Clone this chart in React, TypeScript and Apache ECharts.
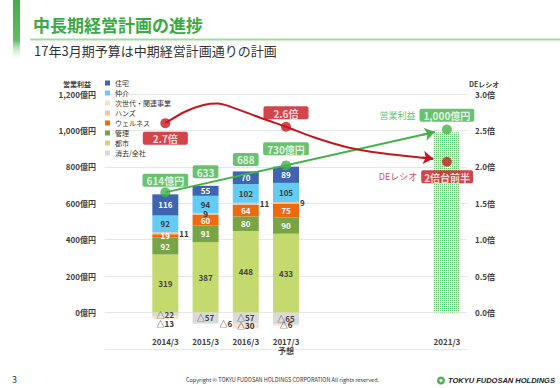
import React, { useEffect, useRef } from "react";
import * as echarts from "echarts";

const FONT = "'Noto Sans CJK JP', 'Noto Sans', sans-serif";

// ---------- data ----------
const categories = ["2013/3", "2014/3", "2015/3", "2016/3", "2017/3", "2018/3", "2019/3", "2020/3", "2021/3"];
const xLabels = ["", "2014/3", "2015/3", "2016/3", "2017/3\n予想", "", "", "", "2021/3"];

const toshi = [null, 319, 387, 448, 433, null, null, null, null];
const kanri = [null, 92, 91, 80, 90, null, null, null, null];
const wellness = [null, 19, 60, 64, 75, null, null, null, null];
const hands = [null, 11, 9, 11, 9, null, null, null, null];
const jisedai = [null, -13, -6, -30, -6, null, null, null, null];
const chukai = [null, 92, 94, 102, 105, null, null, null, null];
const jutaku = [null, 116, 55, 70, 89, null, null, null, null];
const shokyo = [null, -22, -57, -57, -65, null, null, null, null];
const plan2021 = [null, null, null, null, null, null, null, null, 990];

const opTotalLabels = ["", "614億円", "633", "688", "730億円", "", "", "", "1,000億円"];
const opDots = [null, 660, null, null, 808, null, null, null, 1005];
const deDots = [null, 2.6, null, null, 2.55, null, null, null, 2.07];
const deLabels = ["", "2.7倍", "", "", "2.6倍", "", "", "", "2倍台前半"];

// trend lines (x in category units, centre of category i = i + 0.5)
const opTrendX = [1.5, 8.2];
const opTrendY = [660, 991];
const deCurveX = [1.5, 2.0, 2.45, 2.8, 3.15, 3.93, 4.5, 5.17, 6.02, 6.84, 8.16];
const deCurveY = [2.6, 2.76, 2.85, 2.87, 2.82, 2.66, 2.55, 2.41, 2.27, 2.19, 2.11];

const leftMin = -200, leftMax = 1200, leftStep = 200;
const rightMin = -0.5, rightMax = 3.0, rightStep = 0.5;

// ---------- styles ----------
const GREEN = "#45B14B";
const RED = "#C5161E";
const handsPos = [null, "right", "inside", "right", "right", null, null, null, null];
const jisedaiPos = [null, "bottom", "right", "inside", "inside", null, null, null, null];
const opLabelDist = [0, 8, 8, 6, 12, 0, 0, 0, 11];

const fmt = (v: number) => (v < 0 ? "△" + -v : String(v));
const comma = (v: number) => String(v).replace(/\B(?=(\d{3})+(?!\d))/g, ",");

function barSeries(name: string, values: (number | null)[], color: string, labelColor: string, pos?: (string | null)[]) {
  return {
    name,
    type: "bar",
    stack: "op",
    barWidth: 26,
    xAxisIndex: 0,
    yAxisIndex: 0,
    itemStyle: { color },
    label: {
      show: true,
      position: "inside",
      color: labelColor,
      fontSize: 8,
      fontWeight: "bold",
      fontFamily: FONT,
      formatter: (p: any) => (p.value == null ? "" : fmt(p.value)),
    },
    data: values.map((v, i) =>
      v == null ? null : pos && pos[i] && pos[i] !== "inside" ? { value: v, label: { position: pos[i], distance: 1 } } : v
    ),
  };
}

export default function App() {
  const ref = useRef<HTMLDivElement>(null);
  useEffect(() => {
    if (!ref.current) return;
    const chart = echarts.init(ref.current, undefined, { renderer: "svg" });

    const posTotals = categories.map((_, i) =>
      [toshi, kanri, wellness, hands, chukai, jutaku, plan2021].reduce(
        (s, a) => s + (a[i] != null && (a[i] as number) > 0 ? (a[i] as number) : 0),
        0
      )
    );

    const richBox = (bg: string, padX: number) => ({
      backgroundColor: bg,
      color: "#fff",
      fontWeight: "bold",
      fontSize: 10,
      fontFamily: FONT,
      padding: [2, padX, 1, padX],
      borderRadius: 2,
      lineHeight: 12,
    });

    const option: any = {
      animation: false,
      backgroundColor: "#fff",
      textStyle: { fontFamily: FONT },
      title: [
        {
          text: "中長期経営計画の進捗",
          left: 33,
          top: 16,
          padding: 0,
          textStyle: { fontSize: 17, fontWeight: "bold", color: "#3CA843", fontFamily: FONT },
        },
        {
          text: "17年3月期予算は中期経営計画通りの計画",
          left: 34,
          top: 44,
          padding: 0,
          textStyle: { fontSize: 13, fontWeight: "normal", color: "#333", fontFamily: FONT },
        },
      ],
      legend: {
        orient: "vertical",
        left: 105,
        top: 79,
        padding: 0,
        itemWidth: 5,
        itemHeight: 5,
        itemGap: 2,
        icon: "rect",
        selectedMode: false,
        textStyle: { fontSize: 7, color: "#333", fontFamily: FONT, lineHeight: 8 },
        data: ["住宅", "仲介", "次世代・関連事業", "ハンズ", "ウェルネス", "管理", "都市", "消去/全社"],
      },
      grid: { left: 105, right: 93, top: 94, bottom: 39, containLabel: false },
      xAxis: [
        {
          type: "category",
          data: categories,
          axisLine: { show: false },
          axisTick: { show: false },
          axisLabel: {
            interval: 0,
            margin: -12,
            fontSize: 8,
            fontWeight: "bold",
            color: "#404040",
            lineHeight: 9,
            fontFamily: FONT,
            formatter: (_v: string, i: number) => xLabels[i],
          },
        },
        { type: "value", min: 0, max: categories.length, show: false },
      ],
      yAxis: [
        {
          type: "value",
          min: leftMin,
          max: leftMax,
          interval: leftStep,
          name: "営業利益",
          nameLocation: "end",
          nameGap: 7,
          nameTextStyle: { fontSize: 7, fontWeight: "bold", color: "#404040", align: "right", padding: [0, 14, 0, 0], fontFamily: FONT },
          axisLine: { show: false },
          axisTick: { show: false },
          axisLabel: {
            margin: 9,
            fontSize: 8,
            fontWeight: "bold",
            color: "#404040",
            fontFamily: FONT,
            formatter: (v: number) => (v < 0 ? "" : comma(v) + "億円"),
          },
          splitLine: { lineStyle: { color: "#E6E6E6", width: 1 } },
        },
        {
          type: "value",
          min: rightMin,
          max: rightMax,
          interval: rightStep,
          name: "DEレシオ",
          nameLocation: "end",
          nameGap: 7,
          nameTextStyle: { fontSize: 7, fontWeight: "bold", color: "#404040", align: "left", padding: [0, 0, 0, 2], fontFamily: FONT },
          axisLine: { show: false },
          axisTick: { show: false },
          axisLabel: {
            margin: 8,
            fontSize: 8,
            fontWeight: "bold",
            color: "#404040",
            fontFamily: FONT,
            formatter: (v: number) => (v < 0 ? "" : v.toFixed(1) + "倍"),
          },
          splitLine: { show: false },
        },
      ],
      series: [
        barSeries("消去/全社", shokyo, "#DADADA", "#444"),
        barSeries("都市", toshi, "#C4DA6E", "#444"),
        barSeries("管理", kanri, "#77A444", "#fff"),
        barSeries("ウェルネス", wellness, "#EC6A10", "#fff"),
        barSeries("ハンズ", hands, "#F8C29E", "#333", handsPos),
        barSeries("次世代・関連事業", jisedai, "#FCE0CC", "#333", jisedaiPos),
        barSeries("仲介", chukai, "#63CCF4", "#3a3a3a"),
        barSeries("住宅", jutaku, "#3F64B0", "#fff"),
        {
          name: "計画",
          type: "bar",
          stack: "op",
          barWidth: 26,
          itemStyle: {
            color: "#FFFFFF",
            decal: { symbol: "rect", symbolSize: 1, color: "#58C25D", dashArrayX: [1, 1], dashArrayY: [1, 1], rotation: 0 },
          },
          label: { show: false },
          data: plan2021,
        },
        // operating profit trend (green arrow)
        {
          name: "営業利益トレンド",
          type: "line",
          xAxisIndex: 1,
          yAxisIndex: 0,
          showSymbol: false,
          silent: true,
          z: 5,
          lineStyle: { color: GREEN, width: 2 },
          data: opTrendX.map((x, i) => [x, opTrendY[i]]),
          markLine: {
            silent: true,
            symbol: ["none", "arrow"],
            symbolSize: 10,
            label: { show: false },
            lineStyle: { color: GREEN, width: 2, type: "solid" },
            data: [
              [
                { coord: [opTrendX[1] - 0.3, opTrendY[1] - (0.3 * (opTrendY[1] - opTrendY[0])) / (opTrendX[1] - opTrendX[0])] },
                { coord: [opTrendX[1], opTrendY[1]] },
              ],
            ],
          },
        },
        // DE ratio curve (red arrow)
        {
          name: "DEレシオトレンド",
          type: "line",
          xAxisIndex: 1,
          yAxisIndex: 1,
          smooth: 0.3,
          showSymbol: false,
          silent: true,
          z: 5,
          lineStyle: { color: RED, width: 2 },
          data: deCurveX.map((x, i) => [x, deCurveY[i]]),
          markLine: {
            silent: true,
            symbol: ["none", "arrow"],
            symbolSize: 10,
            label: { show: false },
            lineStyle: { color: RED, width: 2, type: "solid" },
            data: [
              [
                { coord: [deCurveX[deCurveX.length - 1] - 0.26, deCurveY[deCurveY.length - 1] + 0.02] },
                { coord: [deCurveX[deCurveX.length - 1], deCurveY[deCurveY.length - 1]] },
              ],
            ],
          },
        },
        // green dots
        {
          name: "営業利益",
          type: "scatter",
          xAxisIndex: 0,
          yAxisIndex: 0,
          symbolSize: 10,
          z: 6,
          itemStyle: { color: GREEN },
          data: opDots,
        },
        // total labels
        {
          name: "営業利益ラベル",
          type: "scatter",
          xAxisIndex: 0,
          yAxisIndex: 0,
          symbolSize: 0,
          z: 7,
          label: {
            show: true,
            position: "top",
            formatter: (p: any) =>
              p.dataIndex === categories.length - 1
                ? `{p|営業利益}{b|${opTotalLabels[p.dataIndex]}}`
                : `{b|${opTotalLabels[p.dataIndex]}}`,
            rich: {
              b: richBox(GREEN, 4),
              p: { color: GREEN, fontSize: 9, fontFamily: FONT, padding: [0, 4, 0, 0] },
            },
          },
          data: posTotals.map((v, i) =>
            opTotalLabels[i]
              ? {
                  value: v,
                  label: {
                    distance: opLabelDist[i],
                    offset: i === categories.length - 1 ? [-20, 0] : [0, 0],
                  },
                }
              : null
          ),
        },
        // DE dots with labels
        {
          name: "DEレシオ",
          type: "scatter",
          xAxisIndex: 0,
          yAxisIndex: 1,
          symbolSize: 10,
          z: 7,
          itemStyle: { color: RED },
          label: {
            show: true,
            formatter: (p: any) => {
              const t = deLabels[p.dataIndex];
              if (p.dataIndex === categories.length - 1) return `{p|DEレシオ}{b|${t}}`;
              return `{w|${t}}`;
            },
            rich: {
              b: richBox(RED, 3),
              w: richBox(RED, 10),
              p: { color: RED, fontSize: 9, fontFamily: FONT, padding: [0, 4, 0, 0] },
            },
          },
          data: deDots.map((v, i) => {
            if (v == null) return null;
            if (i === 1) return { value: v, label: { position: "bottom", distance: 4 } };
            if (i === 4) return { value: v, label: { position: "top", distance: 3 } };
            return { value: v, label: { position: "bottom", distance: 4, offset: [-21, 0] } };
          }),
        },
      ],
      graphic: [
        {
          type: "rect",
          left: 13,
          top: 0,
          shape: { width: 7, height: 62 },
          style: {
            fill: new echarts.graphic.LinearGradient(0, 0, 0, 1, [
              { offset: 0, color: "#43AC4A" },
              { offset: 0.65, color: "#62BD67" },
              { offset: 1, color: "rgba(255,255,255,0)" },
            ]),
          },
        },
        { type: "rect", shape: { x: 30, y: 38.5, width: 530, height: 2 }, style: { fill: "#A6D9A2" } },
        { type: "text", left: 12, top: 375, style: { text: "3", fontSize: 9, fill: "#333", fontFamily: FONT } },
        {
          type: "text",
          left: 186,
          top: 377,
          style: {
            text: "Copyright © TOKYU FUDOSAN HOLDINGS CORPORATION All rights reserved.",
            fontSize: 5.5,
            fill: "#333",
            fontFamily: FONT,
          },
        },
        { type: "circle", shape: { cx: 441, cy: 380.5, r: 4 }, style: { fill: "#4CAF50" } },
        { type: "circle", shape: { cx: 441, cy: 380.5, r: 1.6 }, style: { fill: "#fff" } },
        {
          type: "text",
          left: 448,
          top: 376,
          style: {
            text: "TOKYU FUDOSAN HOLDINGS",
            fontSize: 7.5,
            fontWeight: "bold",
            fontStyle: "italic",
            fill: "#222",
            fontFamily: "'Liberation Sans', Arial, sans-serif",
          },
        },
      ],
    };

    chart.setOption(option);
    return () => chart.dispose();
  }, []);

  return (
    <div
      ref={ref}
      style={{ position: "fixed", left: 0, top: 0, width: 560, height: 388, background: "#fff" }}
    />
  );
}
